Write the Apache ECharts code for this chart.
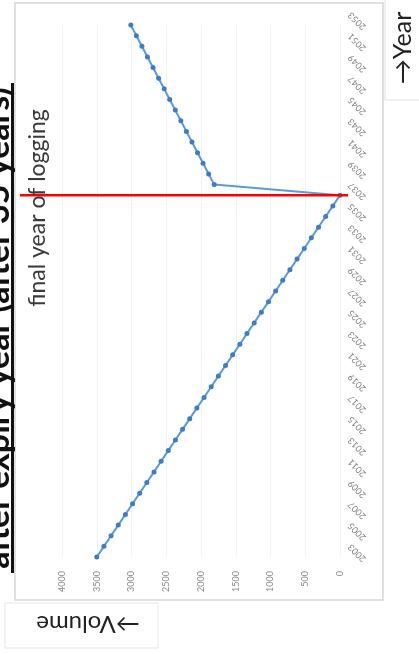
<!DOCTYPE html>
<html>
<head>
<meta charset="utf-8">
<script src="https://cdn.jsdelivr.net/npm/echarts@6/dist/echarts.min.js"></script>
<style>
  html, body { margin: 0; padding: 0; background: #ffffff; }
  #chart { width: 419px; height: 654px; }
</style>
</head>
<body>
<div id="chart"></div>
<script>
// Harvest volume per year; the chart is laid out sideways (years run upward on the right).
const years = ['2003','2004','2005','2006','2007','2008','2009','2010','2011','2012',
  '2013','2014','2015','2016','2017','2018','2019','2020','2021','2022',
  '2023','2024','2025','2026','2027','2028','2029','2030','2031','2032',
  '2033','2034','2035','2036','2037','2038','2039','2040','2041','2042',
  '2043','2044','2045','2046','2047','2048','2049','2050','2051','2052','2053'];

const volumes = [3500, 3397, 3294, 3191, 3088, 2985, 2882, 2779, 2676, 2574,
  2471, 2368, 2265, 2162, 2059, 1956, 1853, 1750, 1647, 1544,
  1441, 1338, 1235, 1132, 1029, 926, 824, 721, 618, 515,
  412, 309, 206, 103, 0, 1810, 1890, 1970, 2050, 2130,
  2210, 2290, 2370, 2450, 2530, 2610, 2690, 2770, 2850, 2930, 3010];

const volumeTicks = [0, 500, 1000, 1500, 2000, 2500, 3000, 3500, 4000];
const yearTickLabels = years.filter((y, i) => i % 2 === 0);
const finalYear = '2037';

const titleText = 'after expiry year (after 35 years)';
const markerText = 'final year of logging';
const yearAxisName = '\u2192Year';
const volumeAxisName = '\u2192Volume';

const chart = echarts.init(document.getElementById('chart'), null, { renderer: 'canvas' });

const option = {
  backgroundColor: '#ffffff',
  animation: false,
  grid: { left: 62, right: 79, top: 25, bottom: 97, containLabel: false },
  xAxis: {
    type: 'value',
    inverse: true,
    min: volumeTicks[0],
    max: volumeTicks[volumeTicks.length - 1],
    interval: volumeTicks[1] - volumeTicks[0],
    position: 'bottom',
    axisLine: { show: false },
    axisTick: { show: false },
    axisLabel: {
      rotate: 90,
      fontSize: 9,
      color: '#8a8a8a',
      margin: 14,
      fontFamily: 'Lato',
      formatter: (v) => String(v)
    },
    splitLine: { show: true, lineStyle: { color: '#f3f3f3', width: 1 } }
  },
  yAxis: {
    type: 'category',
    data: years,
    position: 'right',
    boundaryGap: false,
    axisLine: { show: false },
    axisTick: { show: false },
    // year labels are drawn below as rotated text
    axisLabel: { show: false },
    splitLine: { show: false }
  },
  series: [{
    type: 'line',
    // horizontal layout: value on x, year category on y
    data: volumes.map((v, i) => [v, years[i]]),
    symbol: 'circle',
    symbolSize: 5,
    lineStyle: { color: '#5b9bd5', width: 2 },
    itemStyle: { color: '#3f7cc6' },
    z: 3
  }]
};

chart.setOption(option);

// Positions taken from the axes' own scales.
const yFinal = chart.convertToPixel({ yAxisIndex: 0 }, finalYear);
const xZero = chart.convertToPixel({ xAxisIndex: 0 }, 0);

const yearLabels = yearTickLabels.map((yr) => ({
  type: 'text',
  x: xZero + 17,
  y: chart.convertToPixel({ yAxisIndex: 0 }, yr) - 4,
  rotation: Math.PI * 3 / 4,
  style: { text: yr, font: '9px Lato', fill: '#808080',
           textAlign: 'center', textVerticalAlign: 'middle' },
  z: 4
}));

chart.setOption({
  graphic: [
    // plot frame
    { type: 'rect', shape: { x: 15, y: 3, width: 368, height: 597 },
      style: { fill: 'none', stroke: '#d6d6d6', lineWidth: 1.5 }, z: 1 },
    ...yearLabels,
    // final-year line
    { type: 'line', shape: { x1: 20, y1: yFinal, x2: xZero + 8, y2: yFinal },
      style: { stroke: '#ff0000', lineWidth: 2.5 }, z: 10 },
    // final-year caption
    { type: 'text', x: 38, y: 208, rotation: Math.PI / 2,
      style: { text: markerText, font: '23px Lato', fill: '#3a3a3a',
               textAlign: 'center', textVerticalAlign: 'middle' }, z: 10 },
    // heading (runs off the left edge)
    { type: 'text', x: 15, y: 328, rotation: Math.PI / 2,
      style: { text: titleText, font: 'bold 34px Lato', fill: '#111111',
               textAlign: 'center', textVerticalAlign: 'bottom' }, z: 10 },
    { type: 'rect', shape: { x: 11, y: 83, width: 3, height: 490 },
      style: { fill: '#111111' }, z: 10 },
    // axis name boxes
    { type: 'rect', shape: { x: 385, y: -2, width: 40, height: 102 },
      style: { fill: '#ffffff', stroke: '#e2e2e2', lineWidth: 1 }, z: 5 },
    { type: 'text', x: 403, y: 48, rotation: Math.PI / 2,
      style: { text: yearAxisName, font: '25px Lato', fill: '#222222',
               textAlign: 'center', textVerticalAlign: 'middle' }, z: 6 },
    { type: 'rect', shape: { x: 5, y: 603, width: 153, height: 45 },
      style: { fill: '#ffffff', stroke: '#e6e6e6', lineWidth: 1 }, z: 5 },
    { type: 'text', x: 88, y: 624, rotation: Math.PI,
      style: { text: volumeAxisName, font: '24px Lato', fill: '#222222',
               textAlign: 'center', textVerticalAlign: 'middle' }, z: 6 }
  ]
});
</script>
</body>
</html>
